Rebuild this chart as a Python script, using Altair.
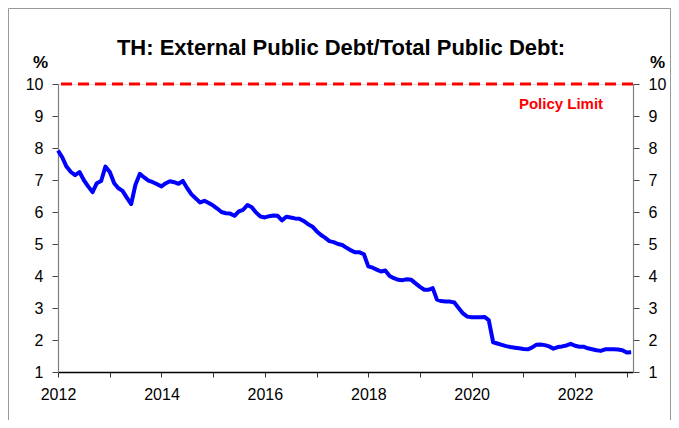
import altair as alt
import pandas as pd

# ---- data (monthly, Jan 2012 .. Feb 2023) ----
start_month = "2012-01-01"
ratio_2012 = [7.92, 7.70, 7.42, 7.25, 7.15, 7.25, 7.00, 6.80, 6.62, 6.90, 6.97, 7.42]
ratio_2013 = [7.25, 6.90, 6.75, 6.66, 6.45, 6.25, 6.85, 7.19, 7.08, 6.98, 6.93, 6.87]
ratio_2014 = [6.80, 6.90, 6.96, 6.93, 6.88, 6.97, 6.75, 6.55, 6.42, 6.30, 6.35, 6.28]
ratio_2015 = [6.20, 6.10, 6.00, 5.96, 5.95, 5.88, 6.02, 6.07, 6.22, 6.15, 5.98, 5.86]
ratio_2016 = [5.83, 5.87, 5.89, 5.88, 5.74, 5.85, 5.83, 5.80, 5.79, 5.72, 5.62, 5.55]
ratio_2017 = [5.40, 5.28, 5.20, 5.09, 5.06, 5.00, 4.97, 4.88, 4.80, 4.74, 4.74, 4.68]
ratio_2018 = [4.30, 4.26, 4.20, 4.14, 4.17, 4.00, 3.93, 3.88, 3.87, 3.90, 3.88, 3.77]
ratio_2019 = [3.66, 3.57, 3.57, 3.62, 3.26, 3.22, 3.20, 3.20, 3.17, 3.00, 2.83, 2.73]
ratio_2020 = [2.71, 2.71, 2.71, 2.72, 2.62, 1.93, 1.89, 1.85, 1.81, 1.78, 1.76, 1.74]
ratio_2021 = [1.72, 1.71, 1.76, 1.85, 1.86, 1.84, 1.80, 1.73, 1.78, 1.80, 1.83, 1.88]
ratio_2022 = [1.82, 1.79, 1.79, 1.74, 1.71, 1.68, 1.66, 1.71, 1.71, 1.71, 1.70, 1.68]
ratio_2023 = [1.61, 1.62]

policy_limit = [10.0]
policy_label = ["Policy Limit"]
y_tick_values = [1, 2, 3, 4, 5, 6, 7, 8, 9, 10]
year_tick_values = [2012, 2013, 2014, 2015, 2016, 2017, 2018, 2019, 2020, 2021, 2022, 2023]
title_text = ["TH: External Public Debt/Total Public Debt:"]

values = (ratio_2012 + ratio_2013 + ratio_2014 + ratio_2015 + ratio_2016 + ratio_2017
          + ratio_2018 + ratio_2019 + ratio_2020 + ratio_2021 + ratio_2022 + ratio_2023)
dates = pd.date_range(start_month, periods=len(values), freq="MS").strftime("%Y-%m-%d")
df = pd.DataFrame({"date": list(dates), "value": values})
limit_df = pd.DataFrame({"limit": policy_limit, "label": policy_label})
title_df = pd.DataFrame({"title": title_text})
dummy = pd.DataFrame({"k": [0]})

FONT = "Liberation Sans, Arial, sans-serif"

x_scale = alt.Scale(domain=[alt.DateTime(year=2012, month=1, date=1),
                            alt.DateTime(year=2023, month=2, date=14)])
y_scale = alt.Scale(domain=[1, 10], nice=False, zero=False)

x_axis = alt.Axis(
    values=[alt.DateTime(year=y, month=1, date=1) for y in year_tick_values],
    labelExpr="year(datum.value) % 2 == 0 ? timeFormat(datum.value, '%Y') : ''",
    labelFont=FONT, labelFontSize=16, labelColor="black",
    labelPadding=9, tickSize=5, tickColor="#333333",
    domainColor="black", domainWidth=1.5, grid=False, title=None,
    labelOverlap=False, labelFlush=False,
)


def y_axis(orient, title_x):
    return alt.Axis(
        orient=orient, values=y_tick_values, grid=False,
        labelFont=FONT, labelFontSize=16, labelColor="black",
        labelPadding=9, tickSize=6, tickColor="#444444",
        domainColor="#808080", domainWidth=1.2,
        title="%", titleAngle=0, titleX=title_x, titleY=-17,
        titleAlign="center", titleBaseline="alphabetic",
        titleFont=FONT, titleFontSize=17, titleFontWeight="bold", titleColor="black",
    )


line = alt.Chart(df).mark_line(color="#0000FF", strokeWidth=4, strokeJoin="round").encode(
    x=alt.X("date:T", scale=x_scale, axis=x_axis),
    y=alt.Y("value:Q", scale=y_scale, axis=y_axis("left", -18)),
)

limit_rule = alt.Chart(limit_df).mark_rule(color="#FF0000", strokeWidth=3, strokeDash=[11, 6]).encode(
    y=alt.Y("limit:Q", scale=y_scale, axis=y_axis("right", 24)),
)

limit_text = alt.Chart(limit_df).mark_text(
    color="#FF0000", font=FONT, fontSize=15, fontWeight="bold",
    align="center", baseline="alphabetic",
).encode(text="label:N", x=alt.value(503), y=alt.value(24.5))

title_mark = alt.Chart(title_df).mark_text(
    color="black", font=FONT, fontSize=22, fontWeight="bold",
    align="center", baseline="alphabetic",
).encode(text="title:N", x=alt.value(283), y=alt.value(-29))

border = alt.layer(
    alt.Chart(dummy).mark_rule(color="#999999", strokeWidth=1).encode(
        x=alt.value(-49.5), y=alt.value(-75.5), y2=alt.value(340)),
    alt.Chart(dummy).mark_rule(color="#999999", strokeWidth=1).encode(
        x=alt.value(-49.5), x2=alt.value(612.5), y=alt.value(-75.5)),
    alt.Chart(dummy).mark_rule(color="#999999", strokeWidth=1).encode(
        x=alt.value(612.5), y=alt.value(-75.5), y2=alt.value(340)),
)

chart = alt.layer(line, limit_rule, limit_text, title_mark, border).resolve_axis(
    y="independent"
).properties(
    width=575,
    height=288,
    autosize=alt.AutoSizeParams(type="none"),
    padding={"left": 50, "top": 76, "right": 38, "bottom": 48},
).configure_view(stroke=None).configure(background="white")

chart.save("out.html", embed_options={"renderer": "svg", "actions": False})
